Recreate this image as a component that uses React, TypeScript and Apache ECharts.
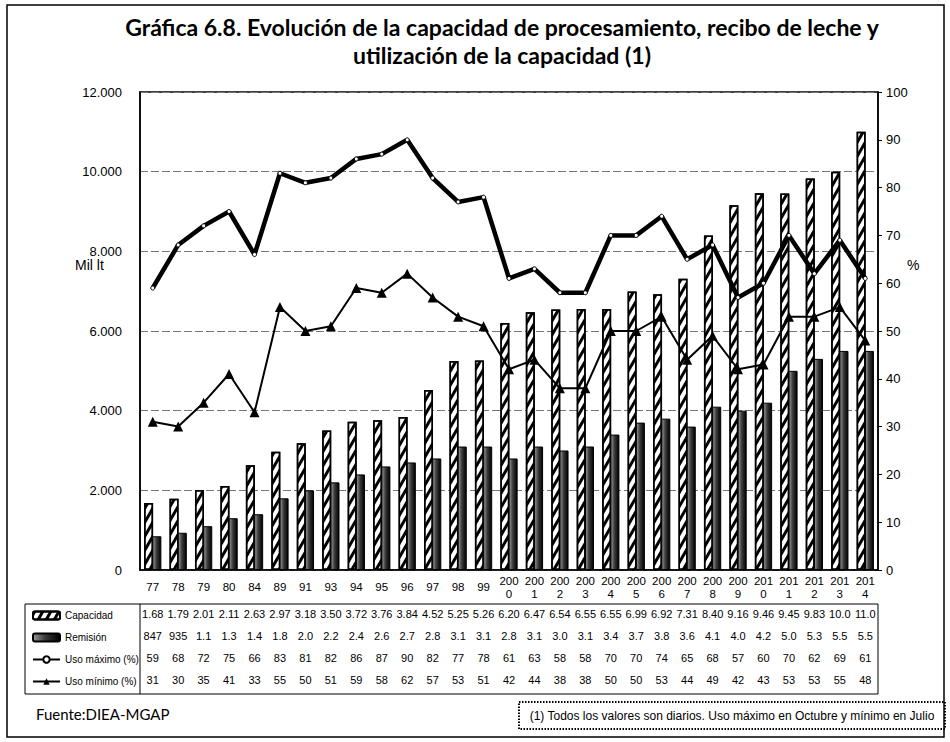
import React, { useEffect, useRef } from "react";
import * as echarts from "echarts";

const categories = [
  "77", "78", "79", "80", "84", "89", "91", "93", "94", "95", "96", "97", "98", "99",
  "200\n0", "200\n1", "200\n2", "200\n3", "200\n4", "200\n5", "200\n6", "200\n7", "200\n8", "200\n9",
  "201\n0", "201\n1", "201\n2", "201\n3", "201\n4",
];
const capacidad = [
  1680, 1790, 2010, 2110, 2630, 2970, 3180, 3500, 3720, 3760, 3840, 4520, 5250, 5260,
  6200, 6470, 6540, 6550, 6550, 6990, 6920, 7310, 8400, 9160, 9460, 9450, 9830, 10000, 11000,
];
const remision = [
  847, 935, 1100, 1300, 1400, 1800, 2000, 2200, 2400, 2600, 2700, 2800, 3100, 3100,
  2800, 3100, 3000, 3100, 3400, 3700, 3800, 3600, 4100, 4000, 4200, 5000, 5300, 5500, 5500,
];
const usoMaximo = [
  59, 68, 72, 75, 66, 83, 81, 82, 86, 87, 90, 82, 77, 78,
  61, 63, 58, 58, 70, 70, 74, 65, 68, 57, 60, 70, 62, 69, 61,
];
const usoMinimo = [
  31, 30, 35, 41, 33, 55, 50, 51, 59, 58, 62, 57, 53, 51,
  42, 44, 38, 38, 50, 50, 53, 44, 49, 42, 43, 53, 53, 55, 48,
];
const seriesNames = ["Capacidad", "Remisión", "Uso máximo (%)", "Uso mínimo (%)"];

const NARROW = "'Liberation Sans', Arial, sans-serif";
const CAL = "Lato, 'Open Sans', sans-serif";

const fmtCap = (v: number) => (v / 1000).toFixed(2).slice(0, 4);
const fmtRem = (v: number) => (v < 1000 ? String(v) : (v / 1000).toFixed(1));

export default function App() {
  const ref = useRef<HTMLDivElement>(null);
  useEffect(() => {
    if (!ref.current) return;
    const chart = echarts.init(ref.current, null, { renderer: "svg" });
    const rowAxis = (data: string[], offset: number) => ({
      type: "category",
      gridIndex: 0,
      position: "bottom",
      offset,
      data,
      axisLine: { show: false },
      axisTick: { show: false },
      splitLine: { show: false },
      axisLabel: {
        interval: 0,
        margin: 0,
        verticalAlign: "middle",
        fontSize: 11,
        fontFamily: NARROW,
        color: "#000",
      },
    });
    chart.setOption({
      animation: false,
      backgroundColor: "#fff",
      title: {
        text: "Gráfica 6.8. Evolución de la capacidad de procesamiento, recibo de leche y\nutilización de la capacidad (1)",
        left: 497,
        top: 8,
        textAlign: "center",
        textStyle: { fontFamily: CAL, fontWeight: "bold", fontSize: 23, lineHeight: 28, color: "#000" },
      },
      legend: {
        orient: "vertical",
        left: 27,
        top: 604,
        itemWidth: 27,
        itemHeight: 8,
        itemGap: 9,
        data: seriesNames,
        textStyle: { fontFamily: NARROW, fontSize: 10, lineHeight: 13, color: "#000" },
      },
      grid: {
        left: 140,
        right: 72,
        top: 92,
        bottom: 172,
        show: true,
        borderColor: "#000",
        borderWidth: 1.5,
      },
      xAxis: [
        {
          type: "category",
          data: categories,
          axisLine: { lineStyle: { color: "#000", width: 1.5 } },
          axisTick: { show: false },
          axisLabel: {
            interval: 0,
            margin: 17,
            verticalAlign: "middle",
            fontSize: 11.5,
            lineHeight: 13,
            fontFamily: NARROW,
            color: "#000",
          },
        },
        rowAxis(capacidad.map(fmtCap), 44),
        rowAxis(remision.map(fmtRem), 66),
        rowAxis(usoMaximo.map(String), 88),
        rowAxis(usoMinimo.map(String), 110),
      ],
      yAxis: [
        {
          type: "value",
          min: 0,
          max: 12000,
          interval: 2000,
          axisLine: { show: true, lineStyle: { color: "#000", width: 1.5 } },
          axisTick: { show: false },
          axisLabel: {
            margin: 18,
            fontSize: 13,
            fontFamily: NARROW,
            color: "#000",
            formatter: (v: number) => (v === 0 ? "0" : (v / 1000).toFixed(3)),
          },
          splitLine: { show: true, lineStyle: { color: "#777", width: 1, type: [8, 3] } },
        },
        {
          type: "value",
          min: 0,
          max: 100,
          interval: 10,
          position: "right",
          axisLine: { show: true, lineStyle: { color: "#000", width: 1.5 } },
          axisTick: { show: true, length: 4, lineStyle: { color: "#000" } },
          axisLabel: { margin: 8, fontSize: 13, fontFamily: NARROW, color: "#000" },
          splitLine: { show: false },
        },
      ],
      series: [
        {
          name: seriesNames[0],
          type: "bar",
          data: capacidad,
          barWidth: 9,
          barGap: "-8%",
          itemStyle: {
            color: "#fff",
            borderColor: "#000",
            borderWidth: 1.5,
            decal: {
              symbol: "rect",
              symbolSize: 1,
              color: "#000",
              backgroundColor: "#fff",
              dashArrayX: [1, 0],
              dashArrayY: [3, 3.5],
              rotation: -Math.PI / 3,
            },
          },
        },
        {
          name: seriesNames[1],
          type: "bar",
          data: remision,
          barWidth: 9,
          itemStyle: {
            color: new echarts.graphic.LinearGradient(0, 0, 1, 0, [
              { offset: 0, color: "#9a9a9a" },
              { offset: 0.45, color: "#3a3a3a" },
              { offset: 1, color: "#000" },
            ]),
            borderColor: "#000",
            borderWidth: 1,
          },
        },
        {
          name: seriesNames[2],
          type: "line",
          yAxisIndex: 1,
          data: usoMaximo,
          symbol: "circle",
          symbolSize: 4,
          lineStyle: { color: "#000", width: 4.5 },
          itemStyle: { color: "#fff", borderColor: "#000", borderWidth: 1 },
          z: 5,
        },
        {
          name: seriesNames[3],
          type: "line",
          yAxisIndex: 1,
          data: usoMinimo,
          symbol: "triangle",
          symbolSize: 10,
          lineStyle: { color: "#000", width: 2 },
          itemStyle: { color: "#000" },
          z: 6,
        },
      ],
      graphic: [
        {
          type: "rect",
          shape: { x: 7, y: 5, width: 937, height: 732 },
          style: { fill: "none", stroke: "#000", lineWidth: 1.5 },
          silent: true,
          z: -1,
        },
        {
          type: "rect",
          shape: { x: 25, y: 604, width: 853, height: 90 },
          style: { fill: "none", stroke: "#000", lineWidth: 1 },
          silent: true,
        },
        {
          type: "line",
          shape: { x1: 140, y1: 604, x2: 140, y2: 694 },
          style: { stroke: "#000", lineWidth: 1 },
          silent: true,
        },
        {
          type: "text",
          x: 75,
          y: 265,
          style: { text: "Mil lt", fontSize: 14, fontFamily: NARROW, fill: "#000", verticalAlign: "middle" },
        },
        {
          type: "text",
          x: 907,
          y: 265,
          style: { text: "%", fontSize: 14, fontFamily: NARROW, fill: "#000", verticalAlign: "middle" },
        },
        {
          type: "text",
          x: 36,
          y: 714,
          style: { text: "Fuente:DIEA-MGAP", fontSize: 15, fontFamily: CAL, fill: "#000", verticalAlign: "middle" },
        },
        {
          type: "rect",
          shape: { x: 519, y: 702, width: 426, height: 27 },
          style: { fill: "none", stroke: "#000", lineWidth: 2, lineDash: [1.5, 1.5] },
          silent: true,
        },
        {
          type: "text",
          x: 732,
          y: 716,
          style: {
            text: "(1) Todos los valores son diarios. Uso máximo en Octubre y mínimo en Julio",
            fontSize: 12,
            fontFamily: NARROW,
            fill: "#000",
            align: "center",
            verticalAlign: "middle",
          },
        },
      ],
    });
    return () => chart.dispose();
  }, []);
  return (
    <div
      ref={ref}
      style={{ position: "fixed", left: 0, top: 0, width: 950, height: 742, background: "#fff" }}
    />
  );
}
